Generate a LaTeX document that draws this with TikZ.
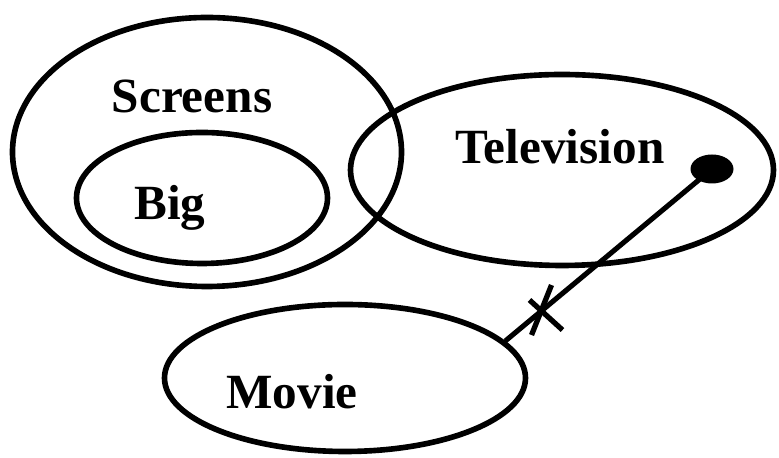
\documentclass[tikz,border=0pt]{standalone}
\usepackage{fontspec}
\setmainfont{Liberation Serif}
\usepackage{tikz}
\usetikzlibrary{shapes.geometric}

\tikzset{
  setbox/.style={draw=black,line width=3.2pt,ellipse,inner sep=0pt},
  setname/.style={font=\fontsize{28}{33}\selectfont\bfseries},
  cutmark/.style={line width=3pt}
}

\begin{document}
\begin{tikzpicture}[x=1cm,y=1cm]
\path[use as bounding box] (0,0) rectangle (15.58,9.16);
% sets
\node[setbox,minimum width=7.78cm,minimum height=5.38cm] (screens) at (4.14,6.12) {};
\node[setbox,minimum width=5.02cm,minimum height=2.62cm] (big) at (4.04,5.20) {};
\node[setbox,minimum width=8.46cm,minimum height=3.82cm] (tv) at (11.24,5.76) {};
\node[setbox,minimum width=7.22cm,minimum height=2.94cm] (movie) at (6.90,1.60) {};
% names
\node[setname] (screenslbl) at (3.84,7.24) {Screens};
\node[setname] (biglbl) at (3.40,5.00) {Big};
\node[setname] (tvlbl) at (11.20,6.22) {Television};
\node[setname] (movielbl) at (5.84,1.32) {Movie};
% dot and crossed line
\node[fill=black,ellipse,inner sep=0pt,minimum width=0.86cm,minimum height=0.58cm] (dot) at (14.24,5.78) {};
\draw[line width=2.9pt] (dot.center) -- (movie.13) coordinate[pos=0.82] (cut);
\draw[cutmark] ([shift={(-0.26,0.20)}]cut) -- ([shift={(0.40,-0.40)}]cut);
\draw[cutmark] ([shift={(0.18,0.50)}]cut) -- ([shift={(-0.22,-0.50)}]cut);
\end{tikzpicture}
\end{document}
